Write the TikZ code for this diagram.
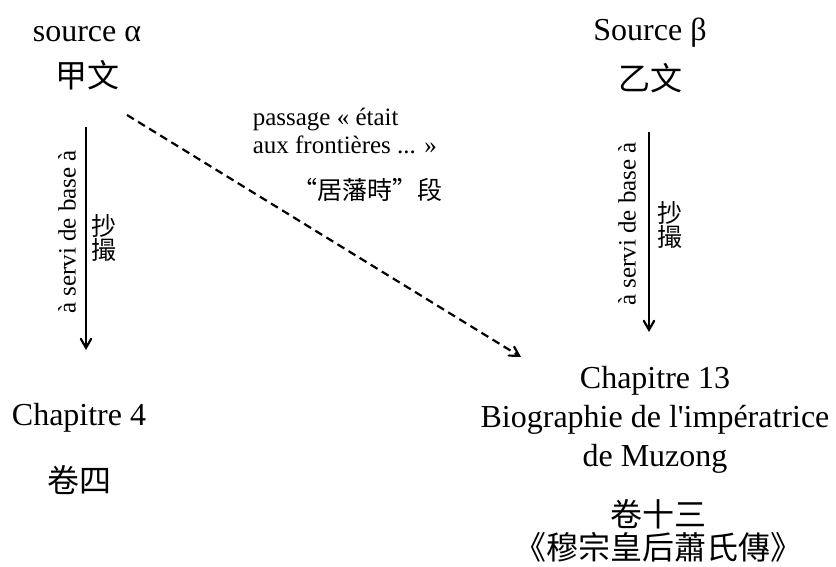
\documentclass[tikz,border=0pt]{standalone}
\usepackage{fontspec}
\setmainfont{Liberation Serif}
\newfontfamily\cjk{Noto Sans CJK TC}
\usepackage{tikz}
\usetikzlibrary{arrows}
\tikzset{big text/.style={font=\fontsize{16}{19.5}\selectfont,align=center,inner sep=0pt},
	small text/.style={font=\fontsize{12.5}{12}\selectfont,inner sep=0pt},
}

\begin{document}
\begin{tikzpicture}[x=0.5pt,y=-0.5pt,>=angle 60,thick,
	copy arrow/.style={->,line width=1.1pt},
	passage arrow/.style={->,line width=1.1pt,dash pattern=on 4pt off 2.5pt}]
	
	\useasboundingbox (0,0) rectangle (836,567);
	
	% left side
	\node[big text] (srcA) at (87,34) {source α};
	\node[big text] (jiawen) at (87,75) {\cjk 甲文};
	\node[big text] (ch4) at (79,418) {Chapitre 4};
	\node[big text] (juan4) at (79,480) {\cjk 卷四};
	\coordinate (la top) at (86,127);
	\coordinate (la bot) at (86,350);
	\draw[copy arrow] (la top) -- (la bot);
	\node[small text,rotate=90] (servA) at (67,232) {à servi de base à};
	\node[small text,align=center] (chaoA) at (104,238) {\cjk 抄\\\cjk 撮};
	
	% right side
	\node[big text] (srcB) at (650,33) {Source β};
	\node[big text] (yiwen) at (650,78) {\cjk 乙文};
	\node[big text] (ch13) at (655,420) {Chapitre 13\\Biographie de l\textquotesingle impératrice\\de Muzong};
	\node[big text,font=\fontsize{16}{16.5}\selectfont] (juan13) at (658,531) {\cjk 卷十三\\\cjk 《穆宗皇后蕭氏傳》};
	\coordinate (ra top) at (649,132);
	\coordinate (ra bot) at (649,332);
	\draw[copy arrow] (ra top) -- (ra bot);
	\node[small text,rotate=90] (servB) at (627,224) {à servi de base à};
	\node[small text,align=center] (chaoB) at (670,225) {\cjk 抄\\\cjk 撮};
	
	% passage
	\coordinate (pa start) at (127,115);
	\coordinate (pa end) at (521,357);
	\draw[passage arrow] (pa start) -- (pa end);
	\node[small text,align=left,anchor=west] (passFr) at (252,131) {passage « était\\[2pt]aux frontières ... »};
	\node[small text] (passZh) at (367,190) {\cjk “居藩時”段};
	
\end{tikzpicture}
\end{document}
